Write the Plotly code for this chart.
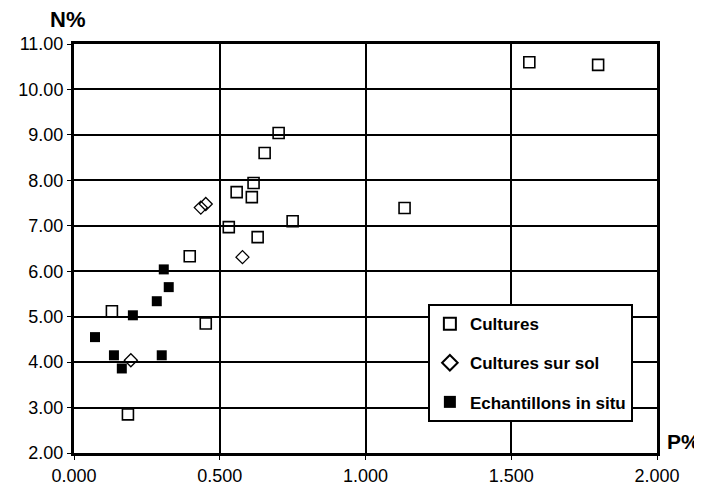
import plotly.graph_objects as go

# Cultures (open squares)
cult_p = [1.562, 1.798, 1.134, 0.702, 0.654, 0.616, 0.558, 0.610, 0.531, 0.750, 0.630, 0.397, 0.130, 0.452, 0.185]
cult_n = [10.60, 10.54, 7.39, 9.04, 8.60, 7.94, 7.74, 7.63, 6.97, 7.10, 6.75, 6.33, 5.12, 4.85, 2.85]

# Cultures sur sol (open diamonds)
sol_p = [0.435, 0.452, 0.578, 0.195]
sol_n = [7.40, 7.48, 6.31, 4.04]

# Echantillons in situ (filled squares)
situ_p = [0.308, 0.325, 0.284, 0.202, 0.072, 0.137, 0.301, 0.164]
situ_n = [6.04, 5.65, 5.34, 5.03, 4.55, 4.15, 4.15, 3.86]

x_ticks = [0.0, 0.5, 1.0, 1.5, 2.0]
y_ticks = [2, 3, 4, 5, 6, 7, 8, 9, 10, 11]

FONT = "Liberation Sans"

fig = go.Figure()
fig.add_trace(go.Scatter(x=cult_p, y=cult_n, mode="markers", name="Cultures", legendgroup="a",
                         marker=dict(symbol="square-open", size=11, color="black", line=dict(width=1.6))))
fig.add_trace(go.Scatter(x=sol_p, y=sol_n, mode="markers", name="Cultures sur sol", legendgroup="b",
                         marker=dict(symbol="diamond-open", size=10, color="black", line=dict(width=1.3))))
fig.add_trace(go.Scatter(x=situ_p, y=situ_n, mode="markers", name="Echantillons in situ", legendgroup="c",
                         marker=dict(symbol="square", size=10, color="black")))

fig.update_layout(
    width=694, height=484,
    margin=dict(l=66, r=45, t=36, b=39, autoexpand=False),
    paper_bgcolor="white", plot_bgcolor="white",
    font=dict(family=FONT, color="black", size=15),
    showlegend=True,
    legend=dict(x=0.607, y=0.364, xanchor="left", yanchor="top",
                bgcolor="white", bordercolor="black", borderwidth=2,
                font=dict(family=FONT, size=17, color="black", weight="bold"),
                tracegroupgap=14, itemsizing="constant"),
    xaxis=dict(range=[0, 2], tickvals=x_ticks, tickformat=".3f", automargin=False,
               showgrid=True, gridcolor="black", gridwidth=2,
               showline=True, linecolor="black", linewidth=3, mirror=True,
               ticks="outside", ticklen=4, tickcolor="black", zeroline=False,
               tickfont=dict(family=FONT, size=18)),
    yaxis=dict(range=[2, 11], tickvals=y_ticks, tickformat=".2f", automargin=False,
               showgrid=True, gridcolor="black", gridwidth=2,
               showline=True, linecolor="black", linewidth=3, mirror=True,
               ticks="outside", ticklen=4, tickcolor="black", zeroline=False,
               tickfont=dict(family=FONT, size=18)),
    annotations=[
        dict(text="<b>N%</b>", xref="paper", yref="paper", x=0.0, y=1.0, xshift=-7, yshift=10,
             xanchor="center", yanchor="bottom", showarrow=False,
             font=dict(family=FONT, size=22)),
        dict(text="<b>P%</b>", xref="paper", yref="paper", x=1.0, y=0.0, xshift=8, yshift=-2,
             xanchor="left", yanchor="bottom", showarrow=False,
             font=dict(family=FONT, size=21)),
    ],
)

fig.write_html("out.html")
